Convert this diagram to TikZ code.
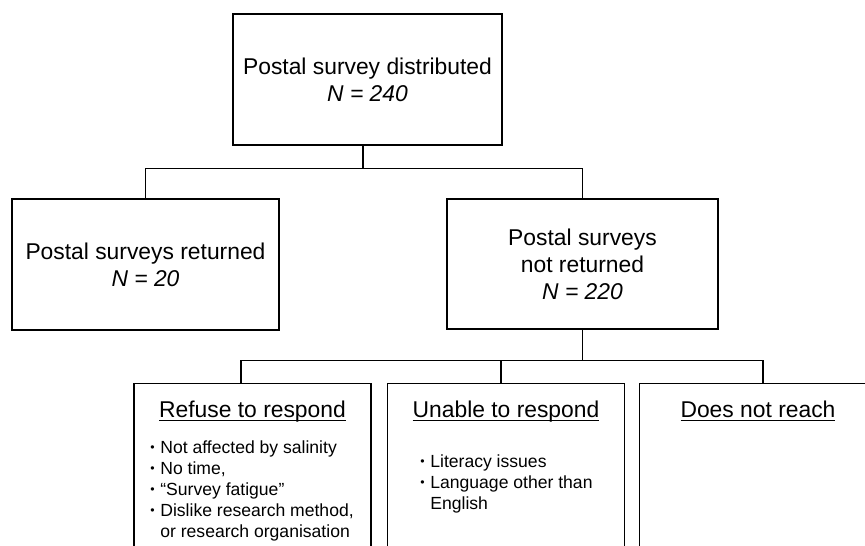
\documentclass[tikz,border=0pt]{standalone}
\usepackage{fontspec}
\setmainfont{Liberation Sans}
\usetikzlibrary{positioning}
\newcommand{\bul}{\makebox[0.2cm][l]{\raisebox{0.2ex}{\scriptsize •}}}
\newcommand{\heading}[1]{\sbox0{#1}\rlap{\rule[-2.4pt]{\wd0}{0.7pt}}\usebox0}

\begin{document}
\begin{tikzpicture}[
  box/.style={draw,line width=0.8pt,align=center,
              font=\fontsize{13}{15.4}\selectfont},
  branch/.style={draw,line width=0.8pt,minimum width=4.74cm,
                 minimum height=3.6cm,anchor=north},
  title/.style={font=\fontsize{13}{15.4}\selectfont,inner sep=0pt,anchor=base},
  items/.style={font=\fontsize{10}{12}\selectfont,align=left,inner sep=0pt,
                anchor=north west},
  link/.style={line width=0.8pt},
]

\useasboundingbox (0,0) rectangle (17.3,-10.92);
\clip (0,0) rectangle (17.3,-10.92);

%% ── Survey boxes ────────────────────────────────────────────────────────────
\node[box,minimum width=5.38cm,minimum height=2.62cm] (dist) at (7.35,-1.59)
  {Postal survey distributed\\\textit{N = 240}};

\node[box,minimum width=5.34cm,minimum height=2.62cm] (ret) at (2.91,-5.29)
  {Postal surveys returned\\\textit{N = 20}};

\node[box,minimum width=5.42cm,minimum height=2.60cm] (notret) at (11.65,-5.28)
  {Postal surveys\\not returned\\\textit{N = 220}};

%% ── Reasons for no return ───────────────────────────────────────────────────
\node[branch] (refuse) at (5.05,-7.66) {};
\node[branch] (unable) at (10.12,-7.66) {};
\node[branch] (noreach) at (15.16,-7.66) {};

\node[title] (refusetitle) at (5.05,-8.34) {\heading{Refuse to respond}};
\node[title] (unabletitle) at (10.12,-8.34) {\heading{Unable to respond}};
\node[title] (noreachtitle) at (15.16,-8.34) {\heading{Does not reach}};

\node[items] (refuseitems) at (3.0,-8.80)
  {\bul Not affected by salinity\\
   \bul No time,\\
   \bul “Survey fatigue”\\
   \bul Dislike research method,\\
   \hspace{0.2cm}or research organisation};

\node[items] (unableitems) at (8.40,-9.09)
  {\bul Literacy issues\\
   \bul Language other than\\
   \hspace{0.2cm}English};

%% ── Connectors ──────────────────────────────────────────────────────────────
\draw[link] ([xshift=-0.09cm]dist.south) -- ++(0,-0.46) coordinate (split1);
\draw[link] (split1) -| (ret.north);
\draw[link] (split1) -| (notret.north);

\draw[link] (notret.south) -- ++(0,-0.62) coordinate (split2);
\draw[link] (split2) -| ([xshift=-0.23cm]refuse.north);
\draw[link] (split2) -| ([xshift=-0.1cm]unable.north);
\draw[link] (split2) -| ([xshift=0.1cm]noreach.north);

\end{tikzpicture}
\end{document}
